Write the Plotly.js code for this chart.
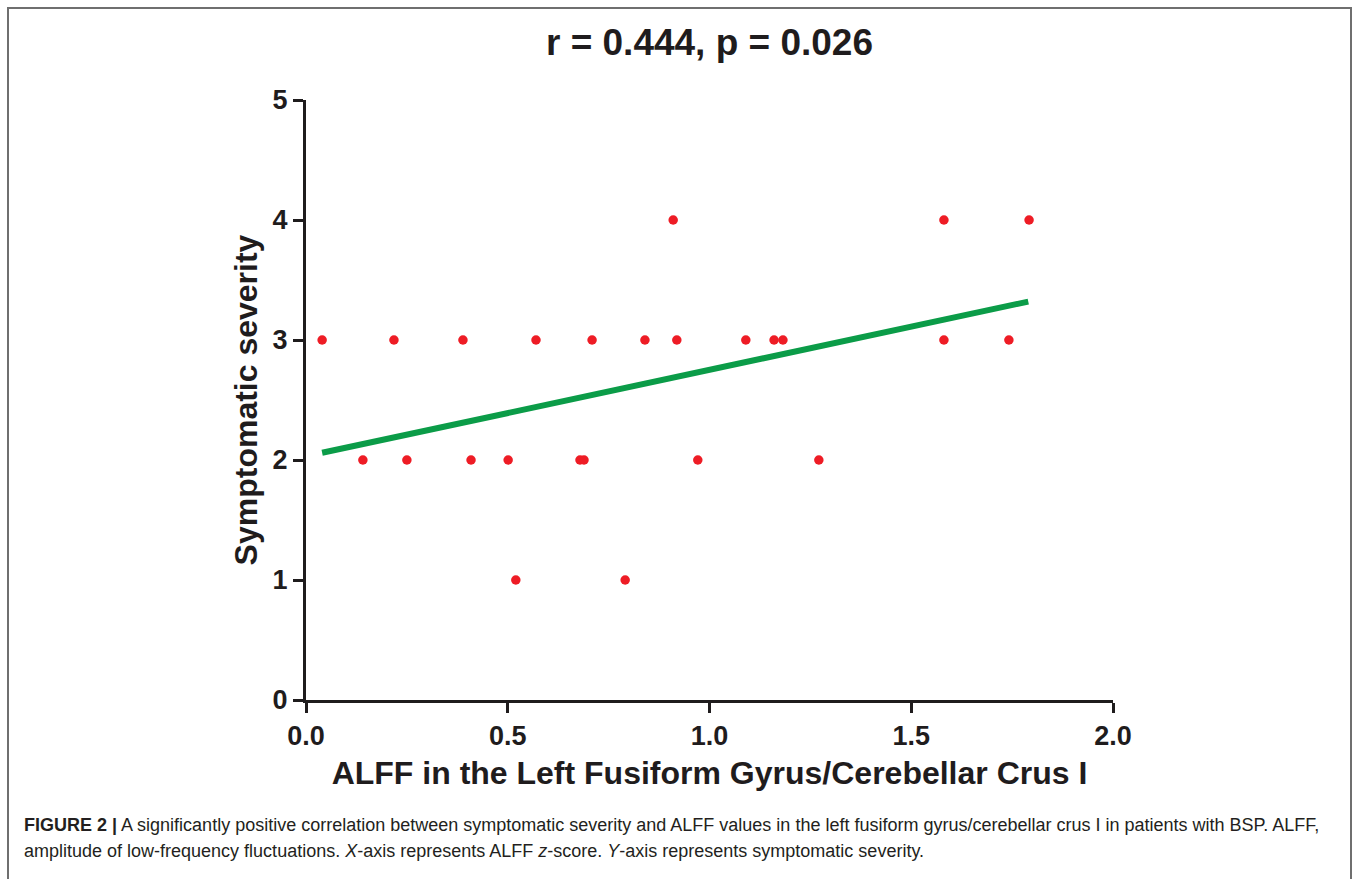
<!DOCTYPE html>
<html>
<head>
<meta charset="utf-8">
<script src="https://cdn.plot.ly/plotly-3.0.1.min.js"></script>
<style>
  html, body { margin: 0; padding: 0; background: #ffffff; overflow: hidden; }
  #wrap { position: relative; width: 1358px; height: 879px; }
  #chart { position: absolute; left: 0; top: 0; width: 1358px; height: 879px; }
  #frame { position: absolute; left: 7px; top: 7px; width: 1341px; height: 900px;
           border: 2px solid #6f6f6f; pointer-events: none; }
</style>
</head>
<body>
<div id="wrap">
  <div id="chart"></div>
  <div id="frame"></div>
</div>
<script>
// ---- data ----
const alffX = [0.04, 0.218, 0.389, 0.570, 0.709, 0.840, 0.919, 1.090, 1.160, 1.182, 1.581, 1.742,
               0.910, 1.581, 1.792,
               0.141, 0.250, 0.409, 0.501, 0.679, 0.689, 0.971, 1.271,
               0.520, 0.791];
const severityY = [3, 3, 3, 3, 3, 3, 3, 3, 3, 3, 3, 3,
                   4, 4, 4,
                   2, 2, 2, 2, 2, 2, 2, 2,
                   1, 1];
const fitX = [0.04, 1.79];
const fitY = [2.06, 3.32];
const xTickVals = [0, 0.5, 1.0, 1.5, 2.0];
const xTickText = ['0.0', '0.5', '1.0', '1.5', '2.0'];
const yTickVals = [0, 1, 2, 3, 4, 5];
const yTickText = ['0', '1', '2', '3', '4', '5'];
const titleText = 'r = 0.444, p = 0.026';
const xTitle = 'ALFF in the Left Fusiform Gyrus/Cerebellar Crus I';
const yTitle = 'Symptomatic severity';
const captionLine1 = '<b>FIGURE 2 |</b> A significantly positive correlation between symptomatic severity and ALFF values in the left fusiform gyrus/cerebellar crus I in patients with BSP. ALFF,';
const captionLine2 = 'amplitude of low-frequency fluctuations. <i>X</i>-axis represents ALFF <i>z</i>-score. <i>Y</i>-axis represents symptomatic severity.';

const ink = '#1f1c1d';
const boldFont = 'Liberation Sans, Arial, sans-serif';

const W = 1358, H = 879;
const L = 306, R = 1113, T = 100, B = 700;
const pw = R - L, ph = B - T;
function px2paperX(px) { return (px - L) / pw; }
function px2paperY(py) { return (B - py) / ph; }

const traces = [
  {
    x: fitX, y: fitY, type: 'scatter', mode: 'lines',
    line: { color: '#0b9c48', width: 6 },
    hoverinfo: 'skip', showlegend: false
  },
  {
    x: alffX, y: severityY, type: 'scatter', mode: 'markers',
    marker: { color: '#ee1c25', size: 9.5 },
    showlegend: false
  }
];

const axisCommon = {
  showgrid: false, zeroline: false, showline: true,
  linecolor: ink, linewidth: 3,
  ticks: 'outside', ticklen: 10, tickwidth: 3, tickcolor: ink,
  tickfont: { family: boldFont, size: 27, color: ink, weight: 'bold' },
  fixedrange: true
};

const layout = {
  width: W, height: H,
  margin: { l: L, r: W - R, t: T, b: H - B, pad: 0 },
  paper_bgcolor: '#ffffff', plot_bgcolor: '#ffffff',
  font: { family: boldFont, color: ink },
  title: {
    text: '<b>' + titleText + '</b>',
    font: { family: boldFont, size: 37, color: ink },
    x: 0.5, xref: 'paper', xanchor: 'center',
    y: 1 - 42 / H, yref: 'container', yanchor: 'middle'
  },
  xaxis: Object.assign({}, axisCommon, {
    range: [0, 2],
    tickvals: xTickVals, ticktext: xTickText,
    title: { text: '<b>' + xTitle + '</b>', font: { family: boldFont, size: 32, color: ink }, standoff: 12 }
  }),
  yaxis: Object.assign({}, axisCommon, {
    range: [0, 5],
    tickvals: yTickVals, ticktext: yTickText,
    title: { text: '<b>' + yTitle + '</b>', font: { family: boldFont, size: 32, color: ink }, standoff: 6 }
  }),
  annotations: [
    {
      text: captionLine1, xref: 'paper', yref: 'paper',
      x: px2paperX(22), y: px2paperY(825), xanchor: 'left', yanchor: 'middle',
      showarrow: false, align: 'left',
      font: { family: 'Liberation Sans, Arial, sans-serif', size: 18, color: '#231f20' }
    },
    {
      text: captionLine2, xref: 'paper', yref: 'paper',
      x: px2paperX(22), y: px2paperY(851), xanchor: 'left', yanchor: 'middle',
      showarrow: false, align: 'left',
      font: { family: 'Liberation Sans, Arial, sans-serif', size: 18, color: '#231f20' }
    }
  ],
  showlegend: false
};

Plotly.newPlot('chart', traces, layout, { displayModeBar: false, staticPlot: true });
</script>
</body>
</html>
